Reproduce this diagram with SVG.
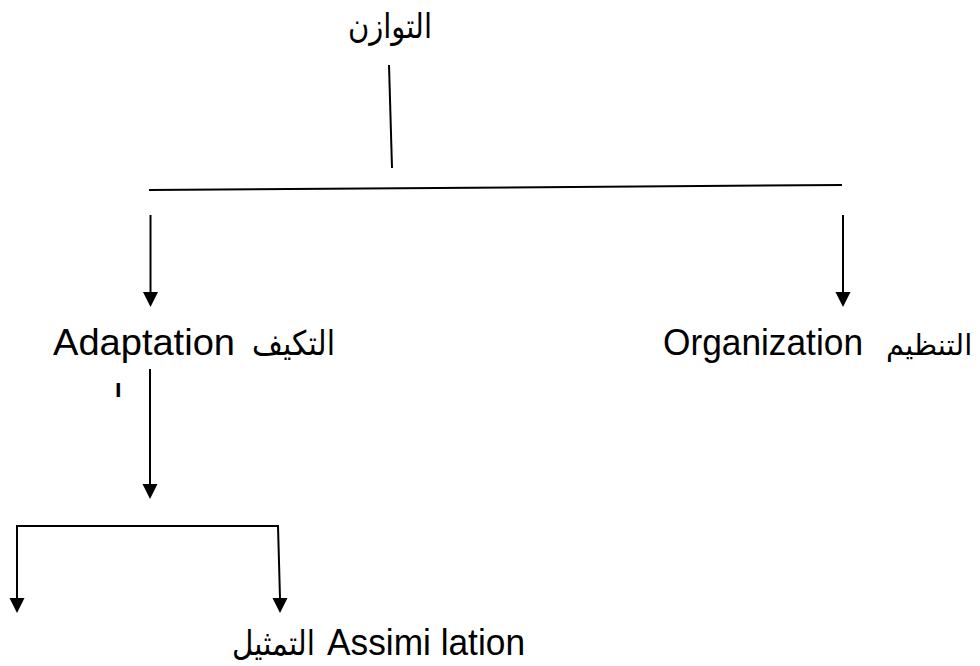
<svg xmlns="http://www.w3.org/2000/svg" width="980" height="666" viewBox="0 0 980 666">
<style>
.t{font-family:"Liberation Sans","DejaVu Sans",sans-serif;font-size:36px;fill:#000}
.a{font-family:"Liberation Sans","DejaVu Sans",sans-serif;font-size:34px;fill:#000}
.l{stroke:#000;stroke-width:2;fill:none}
.h{fill:#000}
</style>
<rect width="980" height="666" fill="#fff"/>
<g id="connectors">
<line class="l" x1="389" y1="65" x2="392" y2="168"/>
<line class="l" x1="149" y1="190" x2="842" y2="185"/>
<path class="l" d="M150.5,215 L150.5,292"/>
<path class="h" d="M143,292 L158,292 L150.5,307 Z"/>
<path class="l" d="M843,215 L843,292"/>
<path class="h" d="M835.5,292 L850.5,292 L843,307 Z"/>
<path class="l" d="M150,369 L150,484"/>
<path class="h" d="M142.5,484 L157.5,484 L150,499 Z"/>
<path class="l" d="M17,598 L17,526 L278,526 L280,598"/>
<path class="h" d="M9.5,598 L24.5,598 L17,613 Z"/>
<path class="h" d="M272.5,598 L287.5,598 L280,613 Z"/>
</g>
<g id="n-equilibrium"><text class="a" x="390" y="38" text-anchor="middle" textLength="84" lengthAdjust="spacingAndGlyphs">التوازن</text></g>
<g id="n-adaptation">
<text class="t" x="53" y="355" textLength="182" lengthAdjust="spacingAndGlyphs">Adaptation</text>
<text class="a" x="252" y="355" textLength="83" lengthAdjust="spacingAndGlyphs">التكيف</text>
<text class="t" x="115" y="397" style="font-size:19px;font-weight:bold">ا</text>
</g>
<g id="n-organization">
<text class="t" x="663" y="355" textLength="200" lengthAdjust="spacingAndGlyphs">Organization</text>
<text class="a" x="886" y="355" style="font-size:29px">التنظيم</text>
</g>
<g id="n-assimilation">
<text class="a" x="232" y="655" textLength="83" lengthAdjust="spacingAndGlyphs">التمثيل</text>
<text class="t" x="327" y="655" textLength="198" lengthAdjust="spacingAndGlyphs">Assimi lation</text>
</g>
</svg>
